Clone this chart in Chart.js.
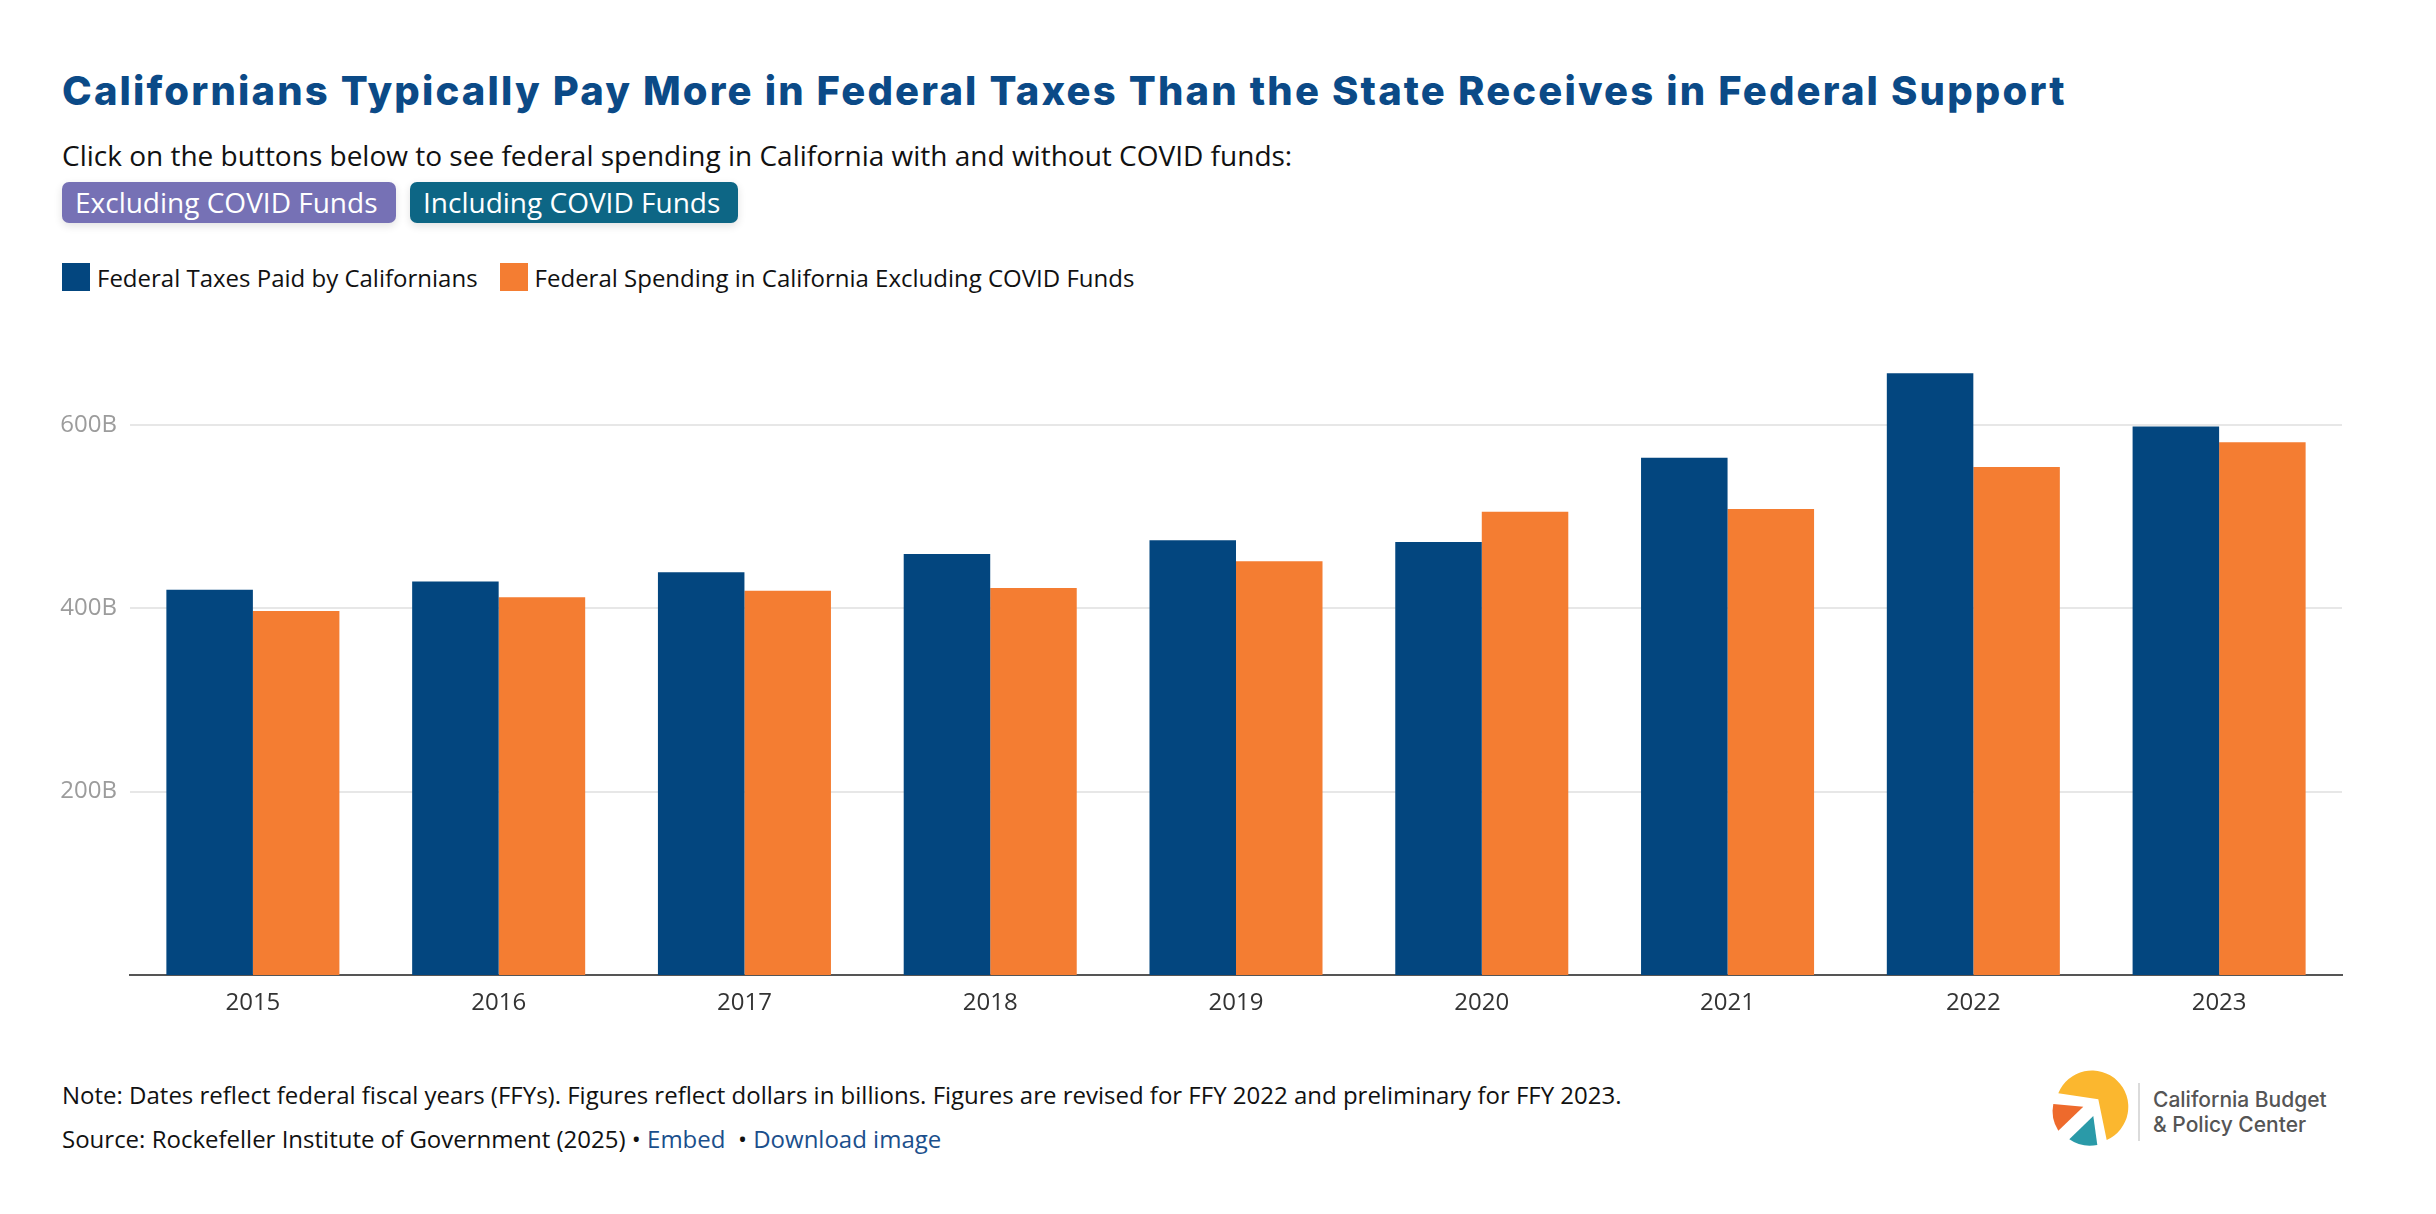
<!DOCTYPE html>
<html>
<head>
<meta charset="utf-8">
<script src="https://cdn.jsdelivr.net/npm/chart.js@4.4.1/dist/chart.umd.min.js"></script>
<style>
  html, body { margin:0; padding:0; background:#fff; }
  body { width:2436px; height:1214px; position:relative; overflow:hidden; font-family:"Open Sans", sans-serif; }
  #title { position:absolute; left:62px; top:63px; margin:0; font-family:Inter, "Open Sans", sans-serif; font-weight:800; font-size:40px; line-height:56px; color:#0b4a87; white-space:nowrap; }
  #sub { position:absolute; left:62px; top:136px; font-size:28px; line-height:38px; color:#111; white-space:nowrap; }
  .btn { position:absolute; top:182px; height:41px; border-radius:7px; color:#fff; font-size:28px; line-height:41px; padding-left:13px; box-sizing:border-box; white-space:nowrap; box-shadow:0 3px 8px rgba(0,0,0,0.12); }
  #b1 { left:62px; width:334px; background:#7671b5; }
  #b2 { left:410px; width:328px; background:#0d6685; }
  #legend { position:absolute; left:62px; top:263px; height:28px; display:flex; align-items:center; font-size:24px; color:#111; white-space:nowrap; }
  .li { display:flex; align-items:center; margin-right:22px; }
  .sw { width:28px; height:28px; margin-right:7px; }
  #wrap { position:absolute; left:0; top:320px; width:2436px; height:715px; }
  .foot { position:absolute; left:62px; font-size:24px; line-height:32px; color:#111; white-space:nowrap; }
  .foot a { color:#1b4f8c; text-decoration:none; }
  #logo { position:absolute; left:2040px; top:1060px; width:340px; height:120px; }
</style>
</head>
<body>
<h1 id="title">Californians Typically Pay More in Federal Taxes Than the State Receives in Federal Support</h1>
<div id="sub">Click on the buttons below to see federal spending in California with and without COVID funds:</div>
<div class="btn" id="b1">Excluding COVID Funds</div>
<div class="btn" id="b2">Including COVID Funds</div>
<div id="legend"></div>
<div id="wrap"><canvas id="c"></canvas></div>
<div class="foot" style="top:1079px">Note: Dates reflect federal fiscal years (FFYs). Figures reflect dollars in billions. Figures are revised for FFY 2022 and preliminary for FFY 2023.</div>
<div class="foot" style="top:1123px">Source: Rockefeller Institute of Government (2025) • <a href="#">Embed</a> &nbsp;• <a href="#">Download image</a></div>
<svg id="logo" viewBox="0 0 340 120">
  <path d="M18.3,33.3 L58.3,39.3 L66.7,80 A36.3,36.3 0 1 0 18.3,33.3 Z" fill="#fbb72f"/>
  <path d="M13.3,44 L43.3,46.7 L18.3,70.7 A36.3,36.3 0 0 1 13.3,44 Z" fill="#ee6a2c"/>
  <path d="M29.3,79.3 L53.3,56 L57.3,85 A36.3,36.3 0 0 1 29.3,79.3 Z" fill="#2a9aa8"/>
  <line x1="99" y1="23" x2="99" y2="81" stroke="#cfcfcf" stroke-width="1.5"/>
  <text x="113" y="47" font-family="Inter, 'Open Sans', sans-serif" font-weight="500" font-size="21" fill="#555">California Budget</text>
  <text x="113" y="72" font-family="Inter, 'Open Sans', sans-serif" font-weight="500" font-size="21" fill="#555">&amp; Policy Center</text>
</svg>
<script>
// ---- data ----
const years = ['2015','2016','2017','2018','2019','2020','2021','2022','2023'];
const federalTaxes = [420, 429, 439, 459, 474, 472, 564, 656, 598];
const federalSpendingExCovid = [397, 412, 419, 422, 451, 505, 508, 554, 581];
const seriesLabels = ['Federal Taxes Paid by Californians', 'Federal Spending in California Excluding COVID Funds'];
const seriesColors = ['#03467f', '#f47d32'];
const yTickValues = [200, 400, 600];
const yTickLabels = ['200B', '400B', '600B'];

// fit title width
(function(){
  const t = document.getElementById('title');
  const target = 2005;
  const w = t.scrollWidth;
  const n = t.textContent.length;
  t.style.letterSpacing = ((target - w) / n) + 'px';
})();

// html legend
const lg = document.getElementById('legend');
seriesLabels.forEach((l, i) => {
  const d = document.createElement('div'); d.className = 'li';
  const s = document.createElement('div'); s.className = 'sw'; s.style.background = seriesColors[i];
  const t = document.createElement('span'); t.textContent = l;
  d.appendChild(s); d.appendChild(t); lg.appendChild(d);
});

new Chart(document.getElementById('c'), {
  type: 'bar',
  data: {
    labels: years,
    datasets: [
      { label: seriesLabels[0], data: federalTaxes, backgroundColor: seriesColors[0], categoryPercentage: 0.704, barPercentage: 1.0 },
      { label: seriesLabels[1], data: federalSpendingExCovid, backgroundColor: seriesColors[1], categoryPercentage: 0.704, barPercentage: 1.0 }
    ]
  },
  options: {
    responsive: true,
    maintainAspectRatio: false,
    animation: false,
    layout: { padding: { left: 20, right: 94, top: 13, bottom: 0 } },
    plugins: { legend: { display: false }, tooltip: { enabled: false } },
    scales: {
      x: {
        grid: { display: false, drawTicks: false },
        border: { display: true, color: '#555', width: 2 },
        ticks: { color: '#333', font: { family: 'Open Sans', size: 24 }, padding: 14 },
        afterFit: (s) => { s.height = 60; s.paddingLeft = 0; s.paddingRight = 0; }
      },
      y: {
        min: 0, max: 700,
        afterBuildTicks: (axis) => { axis.ticks = yTickValues.map(v => ({ value: v })); },
        afterFit: (s) => { s.width = 110; s.paddingTop = 0; s.paddingBottom = 0; },
        grid: { color: '#e7e7e7', lineWidth: 2, drawTicks: false },
        border: { display: false },
        ticks: {
          color: '#9c9c9c', font: { family: 'Open Sans', size: 24 }, padding: 13,
          callback: (v) => { const i = yTickValues.indexOf(v); return i >= 0 ? yTickLabels[i] : ''; }
        }
      }
    }
  }
});
</script>
</body>
</html>
